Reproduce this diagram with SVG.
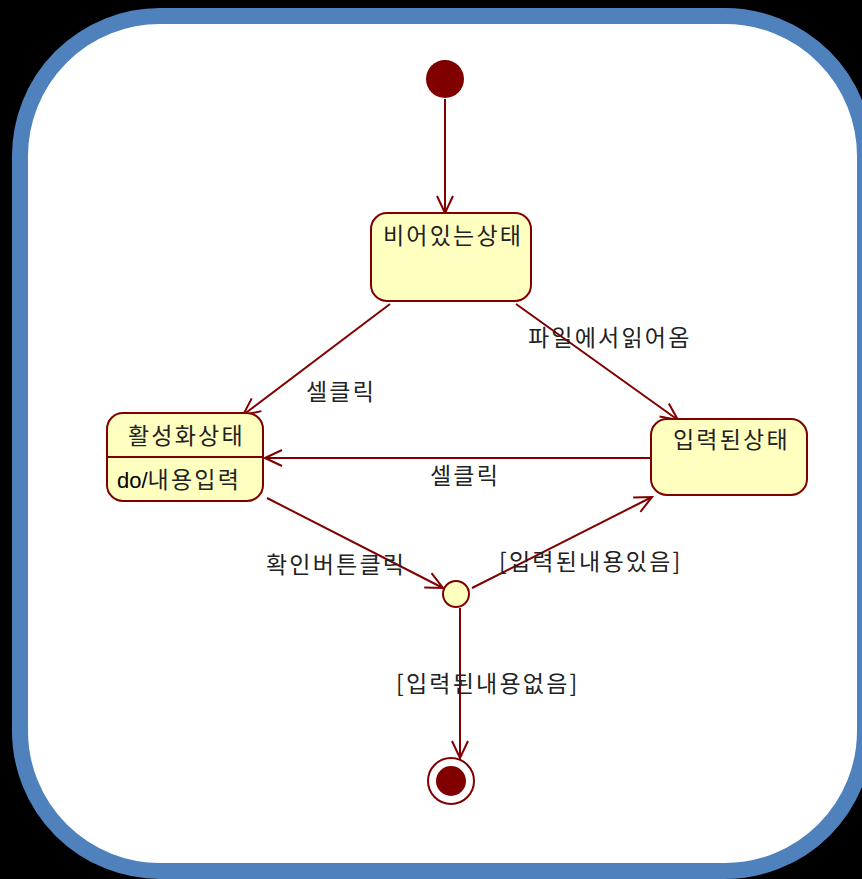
<svg xmlns="http://www.w3.org/2000/svg" width="862" height="879" viewBox="0 0 862 879">
<style>
.st{fill:#FFFFC0;stroke:#800000;stroke-width:2}
.ln{fill:none;stroke:#800000;stroke-width:2}
.t{font-family:"Noto Sans CJK KR","Noto Sans",sans-serif;font-size:23px;fill:#222;letter-spacing:2.2px}
.d{font-family:"Liberation Sans",Arial,sans-serif;font-size:22px;fill:#000}
</style>
<defs>
<marker id="ah" viewBox="0 0 20 20" refX="18" refY="10" markerWidth="20" markerHeight="20" markerUnits="userSpaceOnUse" orient="auto">
<path d="M1,2 L18,10 L1,18" fill="none" stroke="#800000" stroke-width="2"/>
</marker>
</defs>
<rect width="862" height="879" fill="#000"/>
<rect x="20" y="16" width="845" height="855" rx="140" ry="140" fill="#fff" stroke="#4F81BD" stroke-width="16"/>
<g id="connectors">
<line class="ln" x1="445" y1="99" x2="445" y2="213" marker-end="url(#ah)"/>
<line class="ln" x1="390" y1="304" x2="243" y2="415" marker-end="url(#ah)"/>
<line class="ln" x1="516" y1="304" x2="678" y2="420" marker-end="url(#ah)"/>
<line class="ln" x1="651" y1="458" x2="265" y2="458" marker-end="url(#ah)"/>
<line class="ln" x1="267" y1="498" x2="443" y2="588" marker-end="url(#ah)"/>
<line class="ln" x1="472" y1="588" x2="652" y2="497" marker-end="url(#ah)"/>
<line class="ln" x1="460" y1="608" x2="460" y2="758" marker-end="url(#ah)"/>
<text class="t" x="306" y="400">셀클릭</text>
<text class="t" x="528" y="346">파일에서읽어옴</text>
<text class="t" x="430" y="484">셀클릭</text>
<text class="t" x="266" y="573">확인버튼클릭</text>
<text class="t" x="499" y="570">[입력된내용있음]</text>
<text class="t" x="396" y="692">[입력된내용없음]</text>
</g>
<g id="initial"><circle cx="445" cy="79" r="19" fill="#800000"/></g>
<g id="empty">
<rect class="st" x="371" y="213" width="160" height="88" rx="16"/>
<text class="t" x="383" y="244">비어있는상태</text>
</g>
<g id="active">
<rect class="st" x="107" y="413" width="156" height="88" rx="16"/>
<line class="ln" x1="107" y1="457" x2="263" y2="457"/>
<text class="t" x="128" y="444">활성화상태</text>
<text x="117" y="488"><tspan class="d">do/</tspan><tspan class="t">내용입력</tspan></text>
</g>
<g id="entered">
<rect class="st" x="651" y="419" width="156" height="76" rx="16"/>
<text class="t" x="673" y="448">입력된상태</text>
</g>
<g id="choice"><circle class="st" cx="456" cy="594" r="13"/></g>
<g id="final">
<circle cx="451" cy="781" r="23" fill="#fff" stroke="#800000" stroke-width="2"/>
<circle cx="451" cy="781" r="15" fill="#800000"/>
</g>
</svg>
